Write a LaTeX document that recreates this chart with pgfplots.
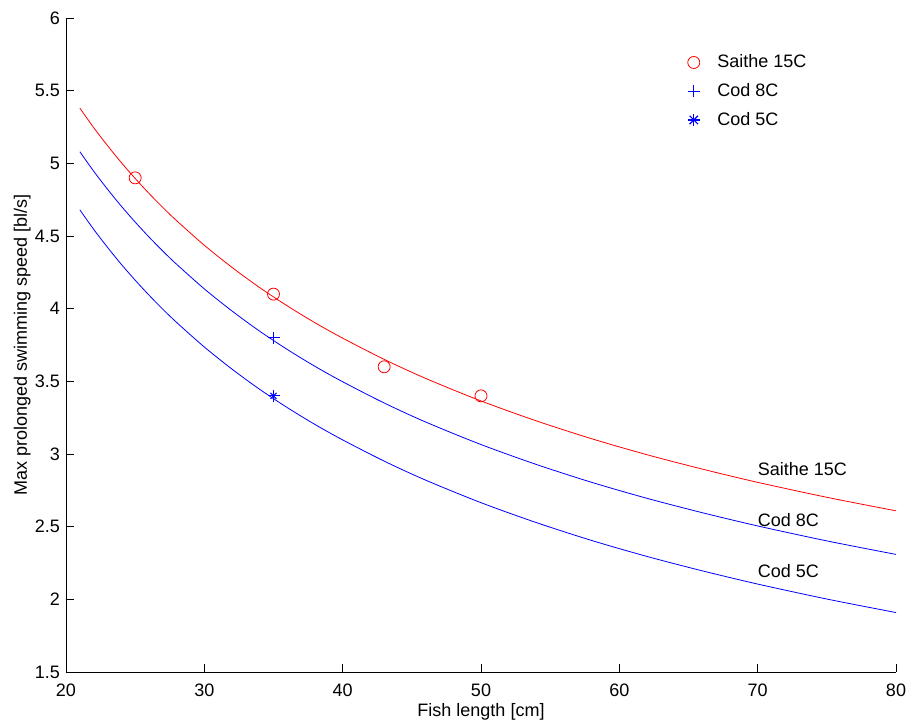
\documentclass[border=0pt]{standalone}
\usepackage{pgfplots}
\usepackage{pgfplotstable}
\pgfplotsset{compat=1.18}
\usepackage{fontspec}
\setmainfont{Liberation Sans}
\definecolor{mred}{RGB}{255,0,0}
\definecolor{mblue}{RGB}{0,0,255}

\pgfplotstableread{
L S C8 C5
21 5.380 5.080 4.680
22 5.246 4.946 4.546
23 5.122 4.822 4.422
24 5.005 4.705 4.305
25 4.896 4.596 4.196
26 4.793 4.493 4.093
27 4.696 4.396 3.996
28 4.605 4.305 3.905
30 4.436 4.136 3.736
32 4.284 3.984 3.584
34 4.145 3.845 3.445
36 4.019 3.719 3.319
38 3.903 3.603 3.203
40 3.797 3.497 3.097
43 3.651 3.351 2.951
46 3.520 3.220 2.820
50 3.365 3.065 2.665
54 3.228 2.928 2.528
58 3.105 2.805 2.405
62 2.995 2.695 2.295
66 2.896 2.596 2.196
70 2.805 2.505 2.105
75 2.702 2.402 2.002
80 2.609 2.309 1.909
}\curves

\pgfplotstableread{
L V
25 4.9
35 4.1
43 3.6
50 3.4
}\saithe

\begin{document}
\fontsize{18bp}{21bp}\selectfont
\begin{tikzpicture}
\begin{axis}[
  scale only axis,
  width=830bp, height=654bp,
  xmin=20, xmax=80, ymin=1.5, ymax=6,
  xtick={20,30,...,80},
  ytick={1.5,2,...,6},
  axis lines=left,
  x axis line style={-},
  y axis line style={-},
  every axis line/.append style={line width=0.8bp},
  tick style={black, line width=0.8bp},
  major tick length=8bp,
  tick align=inside,
  /pgf/number format/assume math mode=true,
  xticklabel style={anchor=base, yshift=-25bp},
  xlabel={Fish length [cm]},
  ylabel={Max prolonged swimming speed [bl/s]},
  xlabel style={at={(axis description cs:0.5,-0.0688)}, anchor=base},
  ylabel style={at={(axis description cs:-0.047,0.5)}, anchor=base, rotate=0},
  legend image code/.code={\path (0bp,0bp) (40bp,0bp); \draw[#1] plot coordinates {(19bp,0bp)};},
  legend style={draw=none, fill=none, inner sep=0pt, row sep=9bp,
    at={(axis cs:63.95,5.763)}, anchor=north west},
  legend cell align=left,
  clip=false,
]
\addplot[mred, smooth, line width=0.8bp, forget plot] table[x=L,y=S]{\curves};
\addplot[mblue, smooth, line width=0.8bp, forget plot] table[x=L,y=C8]{\curves};
\addplot[mblue, smooth, line width=0.8bp, forget plot] table[x=L,y=C5]{\curves};

\addplot[mred, only marks, mark=o, mark size=6bp, line width=0.8bp, mark options={draw=mred}] table[x=L,y=V]{\saithe};
\addlegendentry{Saithe 15C}

\addplot[mblue, only marks, mark=|, mark size=6bp, line width=1.2bp, mark options={draw=mblue},
  legend image code/.code={
    \path (0bp,0bp) (40bp,0bp);
    \draw[mblue, line width=1.2bp] (13bp,0bp) -- (25bp,0bp);
    \draw[mblue, line width=1.2bp] (19bp,-6bp) -- (19bp,6bp);
  }] coordinates {(35,3.8)};
\addlegendentry{Cod 8C}
\addplot[mblue, only marks, mark=-, mark size=6bp, line width=1.2bp, mark options={draw=mblue}, forget plot] coordinates {(35,3.8)};

\addplot[mblue, only marks, mark=|, mark size=6bp, line width=1.1bp, mark options={draw=mblue},
  legend image code/.code={
    \path (0bp,0bp) (40bp,0bp);
    \draw[mblue, line width=1.1bp] (13bp,0bp) -- (25bp,0bp);
    \draw[mblue, line width=1.1bp] (19bp,-6bp) -- (19bp,6bp);
    \draw[mblue, line width=1.1bp] (14.8bp,-4.2bp) -- (23.2bp,4.2bp);
    \draw[mblue, line width=1.1bp] (14.8bp,4.2bp) -- (23.2bp,-4.2bp);
  }] coordinates {(35,3.4)};
\addlegendentry{Cod 5C}
\addplot[mblue, only marks, mark=-, mark size=6bp, line width=1.1bp, mark options={draw=mblue}, forget plot] coordinates {(35,3.4)};
\addplot[mblue, only marks, mark=x, mark size=4.2bp, line width=1.1bp, mark options={draw=mblue}, forget plot] coordinates {(35,3.4)};

\node[anchor=base west, inner sep=0pt] at (axis cs:70,2.849) {Saithe 15C};
\node[anchor=base west, inner sep=0pt] at (axis cs:70,2.498) {Cod 8C};
\node[anchor=base west, inner sep=0pt] at (axis cs:70,2.147) {Cod 5C};
\end{axis}
\pgfresetboundingbox
\path ([shift={(-66bp,-53bp)}]current axis.south west) rectangle ([shift={(15bp,18bp)}]current axis.north east);
\end{tikzpicture}
\end{document}
